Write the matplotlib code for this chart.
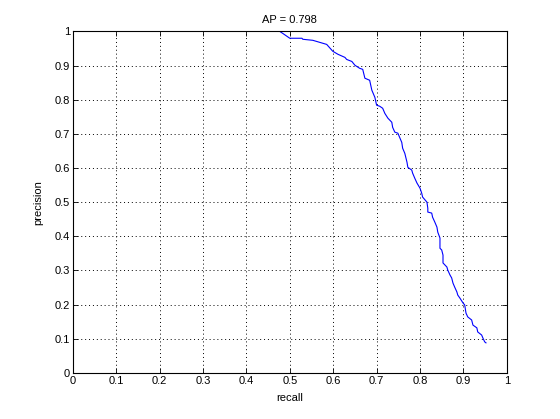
import matplotlib
matplotlib.use("Agg")
import matplotlib.pyplot as plt
from matplotlib.ticker import FormatStrFormatter, MultipleLocator

# precision / recall points
recall = [0.452, 0.477, 0.484, 0.500, 0.528, 0.530, 0.553, 0.569, 0.585, 0.599,
          0.611, 0.627, 0.631, 0.643, 0.650, 0.661, 0.668, 0.673, 0.684, 0.689,
          0.696, 0.700, 0.707, 0.714, 0.719, 0.726, 0.735, 0.737, 0.742, 0.749,
          0.753, 0.758, 0.760, 0.765, 0.770, 0.772, 0.781, 0.783, 0.788, 0.793,
          0.800, 0.804, 0.806, 0.816, 0.818, 0.818, 0.827, 0.829, 0.834, 0.839,
          0.841, 0.846, 0.846, 0.850, 0.853, 0.853, 0.862, 0.864, 0.869, 0.873,
          0.876, 0.880, 0.885, 0.887, 0.892, 0.899, 0.903, 0.906, 0.910, 0.919,
          0.922, 0.931, 0.933, 0.942, 0.945, 0.949, 0.952]
precision = [1.000, 1.000, 0.994, 0.980, 0.980, 0.977, 0.974, 0.968, 0.962, 0.942,
             0.933, 0.924, 0.918, 0.912, 0.901, 0.892, 0.889, 0.863, 0.857, 0.828,
             0.807, 0.784, 0.781, 0.775, 0.760, 0.746, 0.734, 0.719, 0.705, 0.702,
             0.690, 0.675, 0.658, 0.643, 0.617, 0.602, 0.594, 0.585, 0.570, 0.556,
             0.541, 0.526, 0.515, 0.500, 0.482, 0.471, 0.468, 0.456, 0.442, 0.427,
             0.412, 0.395, 0.365, 0.360, 0.345, 0.322, 0.310, 0.301, 0.287, 0.278,
             0.263, 0.251, 0.237, 0.228, 0.219, 0.205, 0.199, 0.175, 0.164, 0.155,
             0.140, 0.132, 0.120, 0.111, 0.102, 0.091, 0.088]
ap = 0.798

plt.rcParams['font.family'] = ['Liberation Sans', 'DejaVu Sans']
plt.rcParams['font.size'] = 8

fig = plt.figure(figsize=(5.6, 4.19), dpi=100)
ax = fig.add_axes([0.13, 0.11, 0.775, 0.815])

ax.plot(recall, precision, color='#0000ff', linewidth=0.8)

ax.set_xlim(0, 1)
ax.set_ylim(0, 1)
ax.xaxis.set_major_locator(MultipleLocator(0.1))
ax.yaxis.set_major_locator(MultipleLocator(0.1))
ax.xaxis.set_major_formatter(FormatStrFormatter('%g'))
ax.yaxis.set_major_formatter(FormatStrFormatter('%g'))
ax.tick_params(direction='in', length=3.5, width=0.6, top=True, right=True,
               labelsize=8, pad=2, colors='black')
ax.grid(True, color='black', linestyle=(0, (1, 3)), linewidth=0.7)
for sp in ax.spines.values():
    sp.set_linewidth(0.8)

ax.set_xlabel('recall', fontsize=8, labelpad=5)
ax.set_ylabel('precision', fontsize=8, labelpad=8)
ax.set_title(f'AP = {ap:.3f}', fontsize=8, pad=6)

fig.savefig('out.png', dpi=100, facecolor='white')
